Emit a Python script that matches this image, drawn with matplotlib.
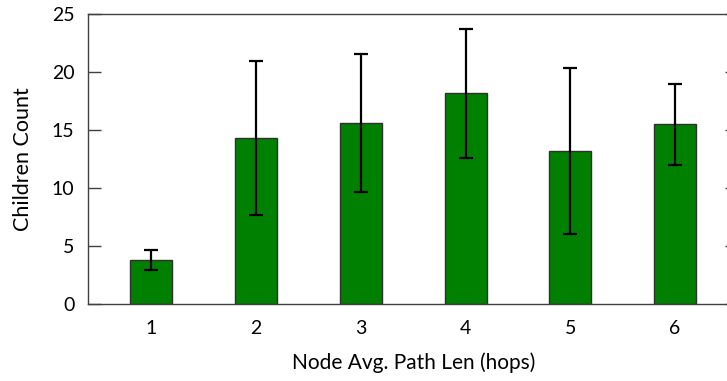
import matplotlib
matplotlib.use("Agg")
from matplotlib import pyplot as plt

# path length buckets and children count stats
hops = [1, 2, 3, 4, 5, 6]
children_mean = [3.76, 14.32, 15.63, 18.15, 13.17, 15.48]
children_err = [0.84, 6.65, 5.96, 5.55, 7.18, 3.48]

plt.rcParams['font.family'] = ['Lato', 'DejaVu Sans']

fig = plt.figure(figsize=(7.27, 3.81), dpi=100)
ax = fig.add_axes([0.1217, 0.2034, 0.8934, 0.7596])

ax.bar(hops, children_mean, width=0.4, color="#008000", edgecolor="#303030",
       linewidth=1.0, zorder=2)
ax.errorbar(hops, children_mean, yerr=children_err, fmt="none", ecolor="black",
            elinewidth=1.6, capsize=5, capthick=1.6, zorder=3)

ax.set_xlim(0.4, 6.6)
ax.set_ylim(0, 25)
ax.set_xticks(hops)
ax.set_yticks([0, 5, 10, 15, 20, 25])

for s in ax.spines.values():
    s.set_color("#404040")
    s.set_linewidth(1.0)

ax.tick_params(axis="y", direction="in", length=9.5, width=1.0, color="#404040",
               labelsize=14, pad=10, right=True)
ax.tick_params(axis="x", length=0, labelsize=14, pad=12)

ax.set_xlabel("Node Avg. Path Len (hops)", fontsize=15, labelpad=11)
ax.set_ylabel("Children Count", fontsize=15.5, labelpad=14)

fig.savefig("out.png", dpi=100)
